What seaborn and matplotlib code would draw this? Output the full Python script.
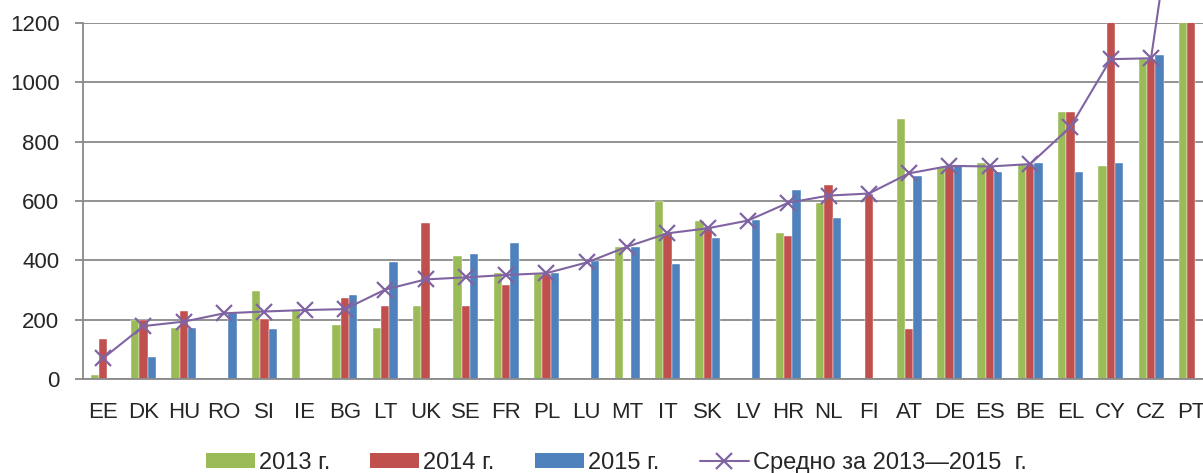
import numpy as np
import pandas as pd
import matplotlib
matplotlib.use("Agg")
import matplotlib.pyplot as plt
import seaborn as sns
from matplotlib.patches import Patch
from matplotlib.lines import Line2D

sns.set_style("white")
plt.rcParams['font.family'] = ['Liberation Sans', 'DejaVu Sans']

nan = np.nan

# Data
countries = ["EE", "DK", "HU", "RO", "SI", "IE", "BG", "LT", "UK", "SE", "FR", "PL", "LU", "MT",
             "IT", "SK", "LV", "HR", "NL", "FI", "AT", "DE", "ES", "BE", "EL", "CY", "CZ", "PT"]
v2013 = [13, 200, 174, nan, 297, 233, 181, 174, 248, 415, 357, 353, nan, 444,
         599, 532, nan, 493, 592, nan, 876, 713, 727, 723, 899, 716, 1078, 2050]
v2014 = [136, 200, 230, nan, 204, nan, 273, 248, 525, 248, 316, 353, nan, nan,
         491, 514, nan, 482, 654, 622, 168, 719, 719, 723, 899, 1790, 1078, 1950]
v2015 = [nan, 75, 174, 222, 168, nan, 285, 396, nan, 420, 458, 359, 398, 444,
         388, 476, 536, 636, 543, nan, 685, 716, 696, 727, 696, 727, 1091, nan]
avg = [71, 179, 194, 222, 228, 233, 236, 302, 336, 343, 351, 357, 393, 446,
       491, 508, 534, 594, 618, 625, 693, 718, 716, 724, 849, 1077, 1080, 2000]

years = ["2013 г.", "2014 г.", "2015 г."]
avg_label = "Средно за 2013—2015  г."
colors = ["#9BBB59", "#C0504D", "#4F81BD"]
line_color = "#8064A2"
grid_color = "#898989"

df = pd.DataFrame({"country": countries, years[0]: v2013, years[1]: v2014, years[2]: v2015})
long = df.melt(id_vars="country", var_name="year", value_name="value")

fig = plt.figure(figsize=(12.03, 4.73), dpi=100)
ax = fig.add_axes([83 / 1203, (473 - 379.3) / 473, 1120 / 1203, 356.7 / 473])

sns.barplot(data=long, x="country", y="value", hue="year", order=countries, hue_order=years,
            palette=colors, saturation=1, width=0.62, gap=0, errorbar=None,
            edgecolor="white", linewidth=0.3, legend=False, ax=ax, zorder=2)

sns.lineplot(x=np.arange(len(countries)), y=avg, color=line_color, lw=1.5, marker="x",
             markersize=11, markeredgewidth=1.6, markeredgecolor=line_color,
             clip_on=False, ax=ax, zorder=4)

ax.set_ylim(0, 1200)
ax.set_xlim(-0.5, 27.29)
ax.set_yticks(range(0, 1201, 200))
ax.yaxis.grid(True, color=grid_color, lw=1.3, zorder=0)
ax.set_axisbelow(True)
ax.set_xlabel("")
ax.set_ylabel("")

for s in ["top", "right"]:
    ax.spines[s].set_visible(False)
for s in ["left", "bottom"]:
    ax.spines[s].set_color(grid_color)
    ax.spines[s].set_linewidth(1.3)

ax.set_xticks(np.arange(len(countries)))
ax.set_xticklabels(countries)
ax.set_xticks(np.arange(len(countries)) - 0.5, minor=True)
ax.tick_params(axis="x", which="major", length=0, pad=16, labelsize=16)
ax.tick_params(axis="x", which="minor", length=6, width=1.3, color=grid_color, direction="out")
ax.tick_params(axis="y", length=6, width=1.3, color=grid_color, direction="out", pad=11, labelsize=16)
ax.tick_params(bottom=True, left=True)

handles = [Patch(facecolor=c, edgecolor="none") for c in colors]
handles.append(Line2D([0], [0], color=line_color, lw=1.5, marker="x", markersize=11,
                      markeredgewidth=1.6))
ax.legend(handles, years + [avg_label], loc="center", bbox_to_anchor=(0.476, -0.235),
          ncol=4, frameon=False, fontsize=17, handlelength=2.08, handleheight=0.6,
          handletextpad=0.17, columnspacing=1.7, borderaxespad=0, borderpad=0)

fig.savefig("out.png", dpi=100)
